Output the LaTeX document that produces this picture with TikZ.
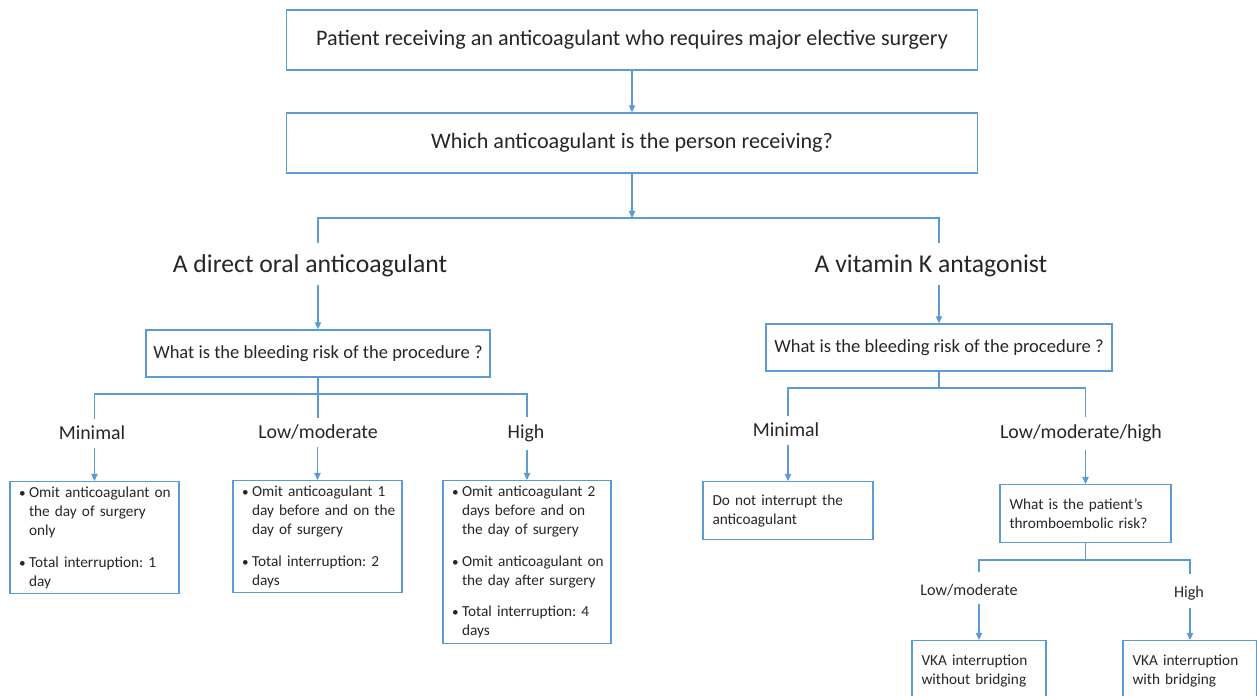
\documentclass[tikz,border=0pt]{standalone}
\usepackage{fontspec}
\setmainfont{Carlito}
\usetikzlibrary{arrows.meta,positioning}

\definecolor{lineblue}{RGB}{91,155,213}
\definecolor{txt}{RGB}{38,38,38}

\newcommand{\bitem}[1]{\hangindent=0.26cm\hangafter=1\noindent\makebox[0.26cm][c]{\fontsize{7.5}{7.5}\selectfont\textbullet}#1\par}
\frenchspacing

\tikzset{
	box/.style={draw=lineblue, line width=0.8pt, text=txt, align=center, inner sep=0pt},
	note/.style={draw=lineblue, line width=0.8pt, text=txt, align=left, anchor=north, inner xsep=0.19cm, inner ysep=0.1cm, font=\fontsize{8.7}{10.8}\selectfont},
	list/.style={note, inner xsep=0.12cm},
	lbl/.style={text=txt, inner sep=1pt},
	line/.style={draw=lineblue, line width=0.6pt},
	arr/.style={line, -{Triangle[length=4pt,width=3.6pt]}},
}

\begin{document}
\begin{tikzpicture}[x=0.02cm, y=-0.02cm, font=\fontsize{12.6}{15}\selectfont]
	\useasboundingbox (0,0) rectangle (1257,696);
	\clip (0,0) rectangle (1257,696);

	% questions
	\node[box, minimum width=13.82cm, minimum height=1.2cm] (top) at (632,40) {Patient receiving an anticoagulant who requires major elective surgery};
	\node[box, minimum width=13.82cm, minimum height=1.2cm] (q1) at (632,143) {Which anticoagulant is the person receiving?};
	\node[lbl, font=\fontsize{14.6}{17}\selectfont] (doac) at (310,266) {A direct oral anticoagulant};
	\node[lbl, font=\fontsize{14.6}{17}\selectfont] (vka) at (931,266) {A vitamin K antagonist};
	\node[box, minimum width=6.88cm, minimum height=0.94cm, font=\fontsize{10.55}{12}\selectfont] (bl1) at (318,353.5) {What is the bleeding risk of the procedure~?};
	\node[box, minimum width=6.92cm, minimum height=0.94cm, font=\fontsize{10.55}{12}\selectfont] (bl2) at (939,347.5) {What is the bleeding risk of the procedure~?};

	% bleeding risk
	\node[lbl, font=\fontsize{11.3}{13}\selectfont] (min1) at (92,433) {Minimal};
	\node[lbl, font=\fontsize{11.3}{13}\selectfont] (low1) at (318,432) {Low/moderate};
	\node[lbl, font=\fontsize{11.3}{13}\selectfont] (high1) at (526,433) {High};
	\node[lbl, font=\fontsize{11.3}{13}\selectfont] (min2) at (786,430) {Minimal};
	\node[lbl, font=\fontsize{11.3}{13}\selectfont] (lmh) at (1081,433) {Low/moderate/high};

	\node[list, text width=3.14cm, minimum height=2.2cm] (b11) at (94.5,481) {\bitem{Omit anticoagulant on\newline the day of surgery\newline only}\vspace{7.3pt}\bitem{Total interruption: 1\newline day}};
	\node[list, text width=3.14cm, minimum height=2.2cm] (b12) at (317.5,480) {\bitem{Omit anticoagulant 1\newline day before and on the\newline day of surgery}\vspace{7.3pt}\bitem{Total interruption: 2\newline days}};
	\node[list, text width=3.12cm, minimum height=3.22cm] (b13) at (527,480) {\bitem{Omit anticoagulant 2\newline days before and on\newline the day of surgery}\vspace{7.3pt}\bitem{Omit anticoagulant on\newline the day after surgery}\vspace{7.3pt}\bitem{Total interruption: 4\newline days}};
	\node[note, text width=3.02cm, minimum height=1.16cm] (dni) at (788,481) {Do not interrupt the\\anticoagulant};
	\node[note, text width=3.04cm, minimum height=1.16cm] (te) at (1085.5,484) {What is the patient’s\\thromboembolic risk?};

	% thromboembolic risk
	\node[lbl, font=\fontsize{9.2}{11}\selectfont] (lm2) at (969,590) {Low/moderate};
	\node[lbl, font=\fontsize{9.2}{11}\selectfont] (hi2) at (1189,593) {High};
	\node[note, text width=2.3cm, minimum height=1.2cm] (vk1) at (979,640) {VKA interruption\\without bridging};
	\node[note, text width=2.3cm, minimum height=1.2cm] (vk2) at (1190,640) {VKA interruption\\with bridging};

	% connectors
	\coordinate (s1) at (632,218);
	\coordinate (s2) at (318,394);
	\coordinate (s3) at (939,388);
	\coordinate (s4) at (1085.5,560);
	\draw[arr] (top) -- (q1);
	\draw[arr] (q1) -- (s1);
	\draw[line, shorten <=0.2cm] (doac.north -| bl1) |- (s1) -| ([yshift=0.2cm]vka.north -| bl2);
	\draw[line, shorten >=0.1cm] (bl1) -- (low1);
	\draw[line, shorten <=0.1cm] (min1.north -| b11) |- (s2) -| ([yshift=0.1cm]high1.north -| b13);
	\draw[line] (bl2) -- (s3);
	\draw[line, shorten <=0.1cm] (min2.north -| dni) |- (s3) -| ([yshift=0.1cm]lmh.north -| te);
	\draw[line] (te) -- (s4);
	\draw[line, shorten <=0.2cm] (lm2.north -| vk1) |- (s4) -| ([yshift=0.2cm]hi2.north -| vk2);
	\foreach \a/\b in {doac/bl1, vka/bl2, min1/b11, low1/b12, high1/b13, min2/dni, lmh/te, lm2/vk1, hi2/vk2}
		\draw[arr, shorten <=0.12cm] (\a.south -| \b) -- (\b.north);
\end{tikzpicture}
\end{document}
